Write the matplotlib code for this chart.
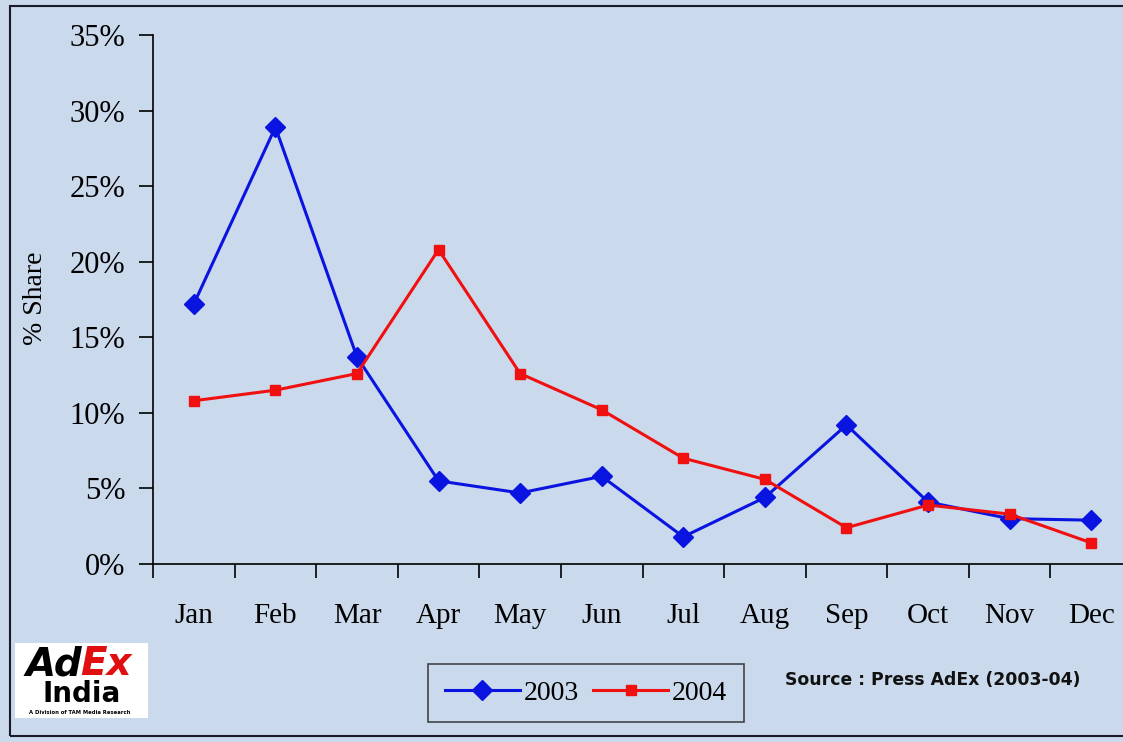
import matplotlib.pyplot as plt
from matplotlib.patches import Rectangle
from matplotlib.ticker import PercentFormatter

months = ['Jan', 'Feb', 'Mar', 'Apr', 'May', 'Jun',
          'Jul', 'Aug', 'Sep', 'Oct', 'Nov', 'Dec']
share_2003 = [17.2, 28.9, 13.7, 5.5, 4.7, 5.8, 1.8, 4.4, 9.2, 4.1, 3.0, 2.9]
share_2004 = [10.8, 11.5, 12.6, 20.8, 12.6, 10.2, 7.0, 5.6, 2.4, 3.9, 3.3, 1.4]

W, H = 1123, 742
bg = '#cad9ec'
serif = ['Liberation Serif', 'DejaVu Serif']

fig = plt.figure(figsize=(W / 100, H / 100), dpi=100, facecolor=bg)

# outer frame of the slide
fig.patches.append(Rectangle((10 / W, (H - 736) / H), 1.2, 730 / H,
                             transform=fig.transFigure, fill=False,
                             edgecolor='#1a1a2a', linewidth=1.5))

ax = fig.add_axes([153 / W, (H - 564) / H, (1132 - 153) / W, (564 - 35) / H])
ax.set_facecolor('none')

x = [i + 0.5 for i in range(len(months))]
ax.plot(x, share_2003, color='#0a14e0', lw=2.2, marker='D', ms=10, label='2003')
ax.plot(x, share_2004, color='#f01010', lw=2.2, marker='s', ms=7.5, label='2004')

ax.set_xlim(0, 12)
ax.set_ylim(0, 35)
ax.set_xticks(range(13))
ax.set_xticklabels([])
ax.set_xticks(x, minor=True)
ax.set_xticklabels(months, minor=True, fontsize=21, family=serif)
ax.tick_params(axis='x', which='minor', length=0, pad=28)
ax.tick_params(axis='x', which='major', length=10, width=1.2, direction='out')
ax.set_yticks(range(0, 36, 5))
ax.yaxis.set_major_formatter(PercentFormatter(decimals=0))
ax.tick_params(axis='y', length=10, width=1.2, pad=10, labelsize=22)
for lb in ax.get_yticklabels():
    lb.set_family(serif)
for s in ['top', 'right']:
    ax.spines[s].set_visible(False)
for s in ['left', 'bottom']:
    ax.spines[s].set_linewidth(1.2)

fig.text(36 / W, (H - 298) / H, '% Share', rotation=90, fontsize=20,
         family=serif, ha='center', va='center')

leg = ax.legend(loc='center', bbox_to_anchor=(586 / W, (H - 693) / H),
                bbox_transform=fig.transFigure, ncol=2, frameon=True,
                fancybox=False, edgecolor='#202020', facecolor='none',
                prop={'family': serif, 'size': 20}, handlelength=2.7,
                columnspacing=0.5, handletextpad=0.15, borderpad=0.6)
leg.get_frame().set_linewidth(1.2)

fig.text(785 / W, (H - 680) / H, 'Source : Press AdEx (2003-04)',
         fontsize=12.4, fontweight='bold', family='DejaVu Sans',
         color='#111111', va='center')

# AdEx India logo
fig.patches.append(Rectangle((15 / W, (H - 718) / H), 133 / W, 75 / H,
                             transform=fig.transFigure, facecolor='white',
                             edgecolor='none'))
fig.text(26 / W, (H - 664) / H, 'Ad', fontsize=28, fontweight='bold',
         style='italic', family='DejaVu Sans', color='black', va='center')
fig.text(80 / W, (H - 664) / H, 'Ex', fontsize=28, fontweight='bold',
         style='italic', family='DejaVu Sans', color='#e01010', va='center')
fig.text(82 / W, (H - 694) / H, 'India', fontsize=20, fontweight='bold',
         family='DejaVu Sans', color='black', ha='center', va='center')
fig.text(80 / W, (H - 712) / H, 'A Division of TAM Media Research',
         fontsize=3.8, fontweight='bold', family='DejaVu Sans',
         color='black', ha='center', va='center')

fig.savefig('out.png', dpi=100, facecolor=bg)
